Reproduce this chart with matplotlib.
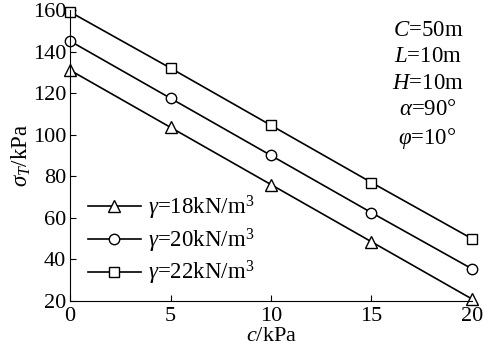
import matplotlib
matplotlib.use("Agg")
import matplotlib.pyplot as plt

c_kpa = [0, 5, 10, 15, 20]
sigma_18 = [131, 103.5, 76, 48.5, 21]
sigma_20 = [145, 117.5, 90, 62.5, 35.5]
sigma_22 = [159, 132, 104.5, 77, 50]
labels = [r"$\gamma$=18kN/m$^3$", r"$\gamma$=20kN/m$^3$", r"$\gamma$=22kN/m$^3$"]
params = [r"$C$=50m", r"$L$=10m", r"$H$=10m", r"$\alpha$=90°", r"$\varphi$=10°"]

plt.rcParams["font.family"] = "Liberation Serif"
plt.rcParams["mathtext.fontset"] = "custom"
plt.rcParams["mathtext.rm"] = "Liberation Serif"
plt.rcParams["mathtext.it"] = "Liberation Serif:italic"
plt.rcParams["font.size"] = 16

fig = plt.figure(figsize=(4.84, 3.55), dpi=100)
ax = fig.add_axes([0.145, 0.152, 0.83, 0.82])

mk = dict(color="black", lw=1.2, mfc="white", mec="black", mew=1.0, clip_on=False)
ax.plot(c_kpa, sigma_18, marker="^", ms=9, label=labels[0], **mk)
ax.plot(c_kpa, sigma_20, marker="o", ms=7.5, label=labels[1], **mk)
ax.plot(c_kpa, sigma_22, marker="s", ms=6.5, label=labels[2], **mk)

ax.set_xlim(0, 20)
ax.set_ylim(20, 160)
ax.set_xticks([0, 5, 10, 15, 20])
ax.set_yticks(range(20, 161, 20))
for s in ["top", "right"]:
    ax.spines[s].set_visible(False)
ax.tick_params(direction="in", length=4, width=0.8, labelsize=16, pad=3)
ax.tick_params(axis="x", pad=4)
ax.set_xlabel(r"$c$/kPa", fontsize=16, labelpad=1)
ax.set_ylabel(r"$\sigma_T$/kPa", fontsize=16.5, labelpad=0)

ax.legend(loc="lower left", bbox_to_anchor=(0.01, 0.0), frameon=False,
          fontsize=16.5, handlelength=2.3, handletextpad=0.3, labelspacing=0.2,
          borderaxespad=0.2)

ax.text(0.89, 0.965, "\n".join(params), transform=ax.transAxes, ha="center",
        va="top", fontsize=16.5, linespacing=1.33)

fig.savefig("out.png", dpi=100)
